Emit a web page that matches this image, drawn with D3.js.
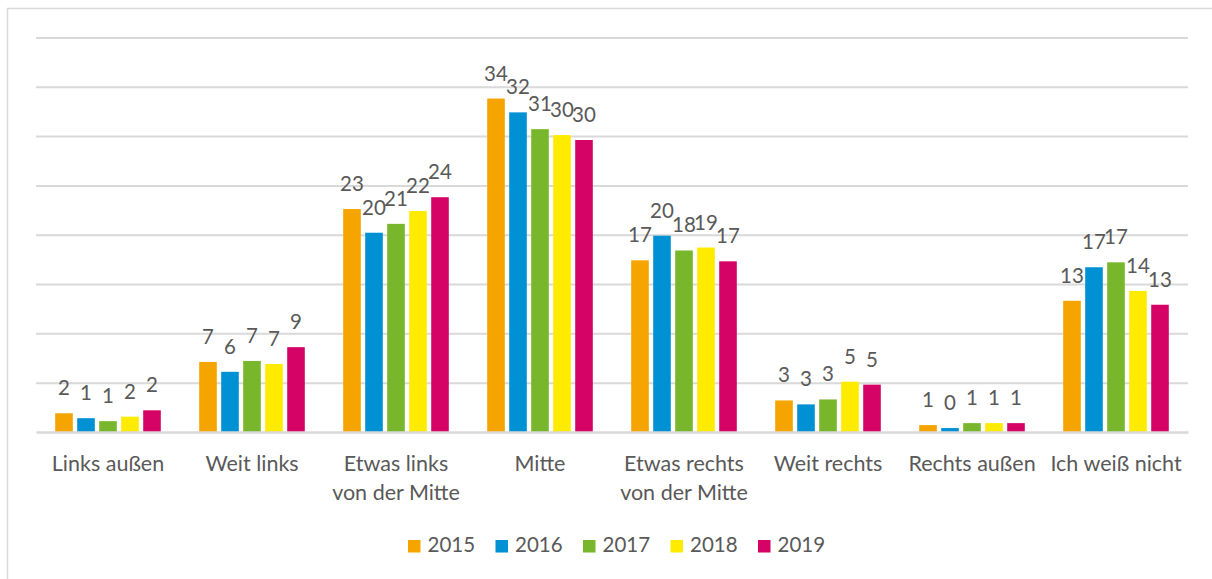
<!DOCTYPE html>
<html>
<head>
<meta charset="utf-8">
<script src="https://cdn.jsdelivr.net/npm/d3@7"></script>
<style>
  html, body { margin: 0; padding: 0; background: #ffffff; }
  svg { display: block; }
  text { font-family: "Lato", "Open Sans", sans-serif; fill: #595959; }
</style>
</head>
<body>
<svg id="chart" width="1212" height="579"></svg>
<script>
// ---- data ----
const categories = [
  "Links außen",
  "Weit links",
  "Etwas links\nvon der Mitte",
  "Mitte",
  "Etwas rechts\nvon der Mitte",
  "Weit rechts",
  "Rechts außen",
  "Ich weiß nicht"
];
const years = ["2015", "2016", "2017", "2018", "2019"];
const values2015 = [1.9, 7.1, 22.6, 33.8, 17.4, 3.2, 0.7, 13.3];
const values2016 = [1.4, 6.1, 20.2, 32.4, 19.9, 2.8, 0.4, 16.7];
const values2017 = [1.1, 7.2, 21.1, 30.7, 18.4, 3.3, 0.9, 17.2];
const values2018 = [1.55, 6.9, 22.4, 30.1, 18.7, 5.1, 0.9, 14.3];
const values2019 = [2.2, 8.6, 23.8, 29.6, 17.3, 4.8, 0.9, 12.9];
const gridTicks = [0, 5, 10, 15, 20, 25, 30, 35, 40];
const colors = ["#F6A400", "#0090D4", "#78B72B", "#FFEB00", "#D60366"];

const seriesValues = [values2015, values2016, values2017, values2018, values2019];

// ---- layout ----
const svg = d3.select("#chart");
const plot = { left: 36, right: 1188, top: 37.4, bottom: 432 };
const fontSize = 20.5;
const catFontSize = 21.5;

svg.append("rect")
  .attr("x", 7.5).attr("y", 8.5)
  .attr("width", 1400).attr("height", 800)
  .attr("fill", "none").attr("stroke", "#d9d9d9").attr("stroke-width", 1.5);

const x0 = d3.scaleBand().domain(categories).range([plot.left, plot.right]).padding(0);
const x1 = d3.scaleBand().domain(years).range([-55, 55]).paddingInner(0.2).paddingOuter(0.1);
const y = d3.scaleLinear().domain([0, 40]).range([plot.bottom, plot.top]);
const color = d3.scaleOrdinal().domain(years).range(colors);

// gridlines via axis
const gridAxis = d3.axisLeft(y).tickValues(gridTicks.filter(t => t > 0))
  .tickSize(-(plot.right - plot.left)).tickFormat("");
const gg = svg.append("g").attr("transform", `translate(${plot.left},0)`).call(gridAxis);
gg.select(".domain").remove();
gg.selectAll(".tick line").attr("stroke", "#d9d9d9").attr("stroke-width", 2);

function addText(sel, x, yy, str, anchor, size) {
  return sel.append("text")
    .attr("x", x).attr("y", yy)
    .attr("text-anchor", anchor || "middle")
    .style("font-size", (size || fontSize) + "px")
    .text(str);
}

// bars
const groups = svg.append("g").selectAll("g")
  .data(categories)
  .join("g")
  .attr("transform", d => `translate(${x0(d) + x0.bandwidth() / 2},0)`);

groups.each(function (cat, ci) {
  const g = d3.select(this);
  years.forEach((yr, si) => {
    const v = seriesValues[si][ci];
    g.append("rect")
      .attr("x", x1(yr))
      .attr("y", y(v))
      .attr("width", x1.bandwidth())
      .attr("height", y(0) - y(v))
      .attr("fill", color(yr));
  });
  years.forEach((yr, si) => {
    const v = seriesValues[si][ci];
    addText(g, x1(yr) + x1.bandwidth() / 2, y(v) - 18, String(Math.round(v)));
  });
});

// baseline (x axis)
const xAxis = d3.axisBottom(x0).tickSize(0).tickFormat("");
const xg = svg.append("g").attr("transform", `translate(0,${plot.bottom})`).call(xAxis);
xg.select(".domain").attr("stroke", "#d9d9d9").attr("stroke-width", 2.6);

// category labels
categories.forEach(cat => {
  const cx = x0(cat) + x0.bandwidth() / 2;
  cat.split("\n").forEach((line, li) => {
    addText(svg, cx, 471 + li * 29, line, "middle", catFontSize);
  });
});

// legend
const legendX = [408, 495.5, 583, 670.5, 758];
const lg = svg.append("g");
years.forEach((yr, i) => {
  lg.append("rect")
    .attr("x", legendX[i]).attr("y", 540)
    .attr("width", 12.5).attr("height", 12.5)
    .attr("fill", color(yr));
  addText(lg, legendX[i] + 19.5, 552, yr, "start");
});
</script>
</body>
</html>
